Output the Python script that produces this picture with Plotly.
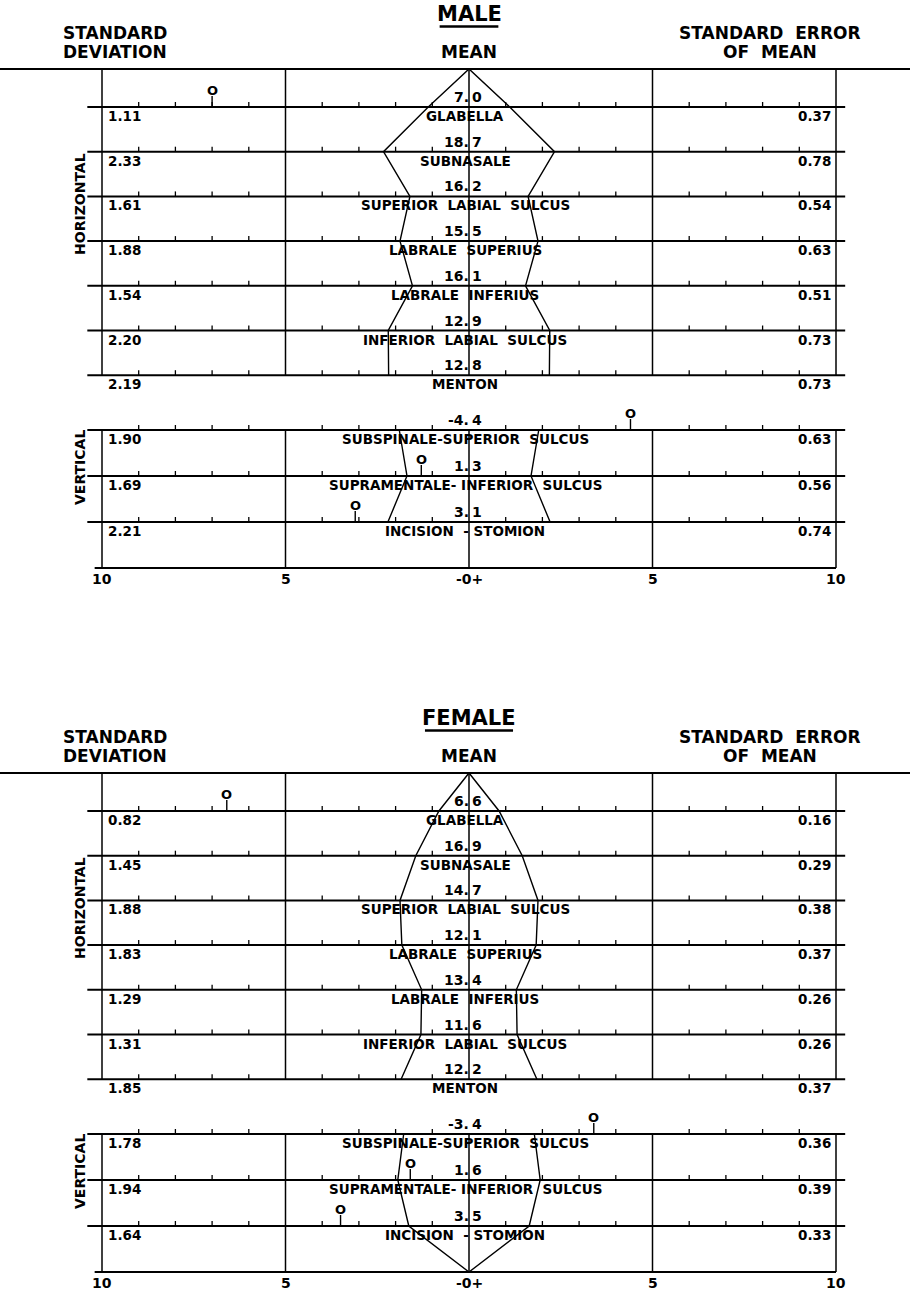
import plotly.graph_objects as go

# ---------------- data ----------------
h_landmarks = ["GLABELLA", "SUBNASALE", "SUPERIOR LABIAL SULCUS", "LABRALE SUPERIUS",
               "LABRALE INFERIUS", "INFERIOR LABIAL SULCUS", "MENTON"]
v_landmarks = ["SUBSPINALE-SUPERIOR SULCUS", "SUPRAMENTALE- INFERIOR SULCUS", "INCISION - STOMION"]

male_h_mean = [7.0, 18.7, 16.2, 15.5, 16.1, 12.9, 12.8]
male_h_sd = [1.11, 2.33, 1.61, 1.88, 1.54, 2.20, 2.19]
male_h_se = [0.37, 0.78, 0.54, 0.63, 0.51, 0.73, 0.73]
male_v_mean = [-4.4, 1.3, 3.1]
male_v_sd = [1.90, 1.69, 2.21]
male_v_se = [0.63, 0.56, 0.74]

female_h_mean = [6.6, 16.9, 14.7, 12.1, 13.4, 11.6, 12.2]
female_h_sd = [0.82, 1.45, 1.88, 1.83, 1.29, 1.31, 1.85]
female_h_se = [0.16, 0.29, 0.38, 0.37, 0.26, 0.26, 0.37]
female_v_mean = [-3.4, 1.6, 3.5]
female_v_sd = [1.78, 1.94, 1.64]
female_v_se = [0.36, 0.39, 0.33]

scale_ticks = [-10, -5, 0, 5, 10]
scale_tick_labels = ["10", "5", "-0+", "5", "10"]
minor_ticks = [k for k in range(-9, 10) if k not in (-5, 0, 5)]

# ---------------- layout constants ----------------
W, H = 910, 1293
PX0 = 469.0      # pixel column of value 0
PPU = 36.7       # pixels per unit
X_MIN = -PX0 / PPU
X_MAX = (W - PX0) / PPU

FONT = "DejaVu Sans"
INK = "black"

panels = [
    dict(title="MALE", top=69, h_mean=male_h_mean, h_sd=male_h_sd, h_se=male_h_se,
         v_mean=male_v_mean, v_sd=male_v_sd, v_se=male_v_se, close_bottom=False),
    dict(title="FEMALE", top=773, h_mean=female_h_mean, h_sd=female_h_sd, h_se=female_h_se,
         v_mean=female_v_mean, v_sd=female_v_sd, v_se=female_v_se, close_bottom=True),
]

fig = go.Figure()
ann = []
shapes = []


def add_text(x, y, text, size, xanchor="center", yanchor="middle", angle=0, xref="x"):
    ann.append(dict(x=x, y=y, xref=xref, yref="y", text=text, showarrow=False,
                    xanchor=xanchor, yanchor=yanchor, textangle=angle,
                    borderpad=0, borderwidth=0,
                    font=dict(family=FONT, size=size, color=INK, weight="bold")))


def split_mean(v):
    s = f"{v:.1f}"
    i = s.index(".")
    return s[: i + 1], s[i + 1:]


for p in panels:
    top = p["top"]
    y_h = [top + 38 + i * 44.7 for i in range(len(h_landmarks))]
    y_v = [top + 361 + j * 46 for j in range(len(v_landmarks))]
    y_bot = top + 499

    # full-width top rule
    shapes.append(dict(type="line", xref="paper", yref="y", x0=0, x1=1, y0=top, y1=top,
                       line=dict(color=INK, width=2)))

    # landmark rules
    gx, gy = [], []
    for y in y_h + y_v:
        gx += [-10.4, 10.25, None]
        gy += [y, y, None]
    gx += [-10.2, 10.0, None]
    gy += [y_bot, y_bot, None]
    fig.add_trace(go.Scatter(x=gx, y=gy, mode="lines", line=dict(color=INK, width=2),
                             hoverinfo="skip", showlegend=False))

    # vertical scale rules
    vx, vy = [], []
    for t in scale_ticks:
        vx += [t, t, None, t, t, None]
        vy += [top, y_h[-1], None, y_v[0], y_bot, None]
    fig.add_trace(go.Scatter(x=vx, y=vy, mode="lines", line=dict(color=INK, width=1.5),
                             hoverinfo="skip", showlegend=False))

    # minor ticks (one unit apart)
    tx, ty = [], []
    for y in y_h + y_v:
        for k in minor_ticks:
            tx += [k, k, None]
            ty += [y, y - 5, None]
    fig.add_trace(go.Scatter(x=tx, y=ty, mode="lines", line=dict(color=INK, width=1.3),
                             hoverinfo="skip", showlegend=False))

    # +/- 1 SD envelope, horizontal section
    sd = p["h_sd"]
    px_ = [-s for s in sd[::-1]] + [0] + list(sd)
    py_ = y_h[::-1] + [top] + y_h
    fig.add_trace(go.Scatter(x=px_, y=py_, mode="lines", line=dict(color=INK, width=1.4),
                             hoverinfo="skip", showlegend=False))

    # +/- 1 SD envelope, vertical section
    vsd = p["v_sd"]
    if p["close_bottom"]:
        qx = [-s for s in vsd] + [0] + list(vsd[::-1])
        qy = y_v + [y_bot] + y_v[::-1]
    else:
        qx = [-s for s in vsd] + [None] + list(vsd)
        qy = y_v + [None] + y_v
    fig.add_trace(go.Scatter(x=qx, y=qy, mode="lines", line=dict(color=INK, width=1.4),
                             hoverinfo="skip", showlegend=False))

    # mean markers ("O" on a stem) for means within the scale
    ox, oy = [], []
    for means, ys in ((p["h_mean"], y_h), (p["v_mean"], y_v)):
        for m, y in zip(means, ys):
            if abs(m) <= 10:
                ox += [-m, -m, None]
                oy += [y, y - 11, None]
                add_text(-m, y - 16.5, "O", 13)
    fig.add_trace(go.Scatter(x=ox, y=oy, mode="lines", line=dict(color=INK, width=1.4),
                             hoverinfo="skip", showlegend=False))

    # row texts
    for names, means, sds, ses, ys in ((h_landmarks, p["h_mean"], p["h_sd"], p["h_se"], y_h),
                                       (v_landmarks, p["v_mean"], p["v_sd"], p["v_se"], y_v)):
        for name, m, s, e, y in zip(names, means, sds, ses, ys):
            add_text(-9.85, y + 9, f"{s:.2f}", 13.5, xanchor="left")
            add_text(9.85, y + 9, f"{e:.2f}", 13.5, xanchor="right")
            label = name.replace(" ", "\u00a0\u00a0").replace("-\u00a0\u00a0", "-\u00a0")
            add_text(-0.1, y + 9, label, 13.5)
            a, b = split_mean(m)
            add_text(-0.01, y - 10, a, 14, xanchor="right")
            add_text(0.07, y - 10, b, 14, xanchor="left")

    # scale labels
    for t, lab in zip(scale_ticks, scale_tick_labels):
        add_text(t, y_bot + 11, lab, 14)

    # headings
    add_text(0, top - 55, p["title"], 21)
    tw = 0.8 if p["title"] == "MALE" else 1.2
    shapes.append(dict(type="line", xref="x", yref="y", x0=-tw, x1=tw, y0=top - 42.5, y1=top - 42.5,
                       line=dict(color=INK, width=2.4)))
    add_text(-11.05, top - 36, "STANDARD", 17, xanchor="left")
    add_text(-11.05, top - 17, "DEVIATION", 17, xanchor="left")
    add_text(0, top - 17, "MEAN", 17)
    add_text(8.2, top - 36, "STANDARD\u00a0\u00a0ERROR", 17)
    add_text(8.2, top - 17, "OF\u00a0\u00a0MEAN", 17)

    # section side labels
    add_text(-10.6, top + 135, "HORIZONTAL", 14, angle=-90)
    add_text(-10.6, top + 398, "VERTICAL", 14, angle=-90)

fig.update_layout(
    width=W, height=H, margin=dict(l=0, r=0, t=0, b=0),
    paper_bgcolor="white", plot_bgcolor="white",
    xaxis=dict(range=[X_MIN, X_MAX], visible=False, fixedrange=True),
    yaxis=dict(range=[H, 0], visible=False, fixedrange=True),
    annotations=ann, shapes=shapes, showlegend=False,
)

fig.write_html(
    "out.html",
    config={"displayModeBar": False},
    post_script="document.body.style.margin='0';document.body.style.overflow='hidden';",
)
